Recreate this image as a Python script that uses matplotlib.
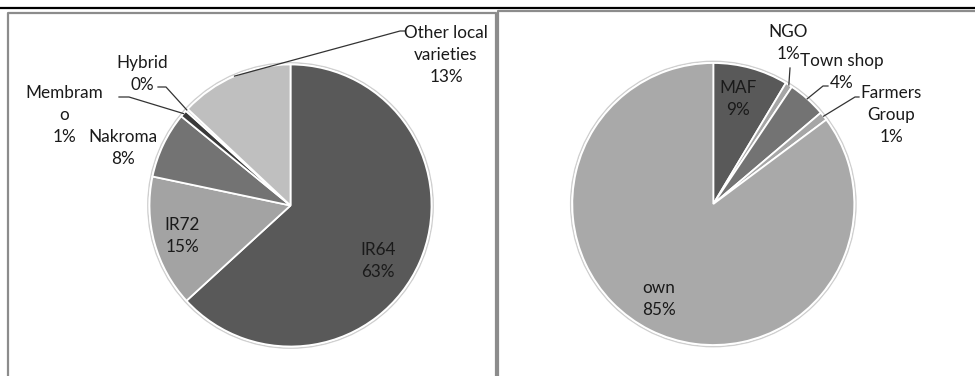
import matplotlib
matplotlib.use("Agg")
import matplotlib.pyplot as plt
import numpy as np

# ---------------- data ----------------
varieties = ["IR64", "IR72", "Nakroma", "Membram\no", "Hybrid", "Other local\nvarieties"]
variety_share = [63.2, 15.1, 7.6, 0.8, 0.3, 13.0]
variety_colors = ["#595959", "#a3a3a3", "#737373", "#3a3a3a", "#d9d9d9", "#bfbfbf"]

sources = ["MAF", "NGO", "Town shop", "Farmers\nGroup", "own"]
source_share = [8.6, 0.8, 4.4, 1.0, 85.2]
source_colors = ["#595959", "#a6a6a6", "#737373", "#a6a6a6", "#a9a9a9"]

# ---------------- layout (pixels) ----------------
W, H = 975, 376
plt.rcParams['font.family'] = ['Lato', 'DejaVu Sans']
FS = 12.3
LS = 1.5

fig = plt.figure(figsize=(W / 100, H / 100), dpi=100)
bg = fig.add_axes([0, 0, 1, 1])
bg.set_xlim(0, W)
bg.set_ylim(H, 0)
bg.axis('off')
bg.plot([0, W], [7.5, 7.5], color='black', lw=1.6, solid_capstyle='butt')
bg.plot([8, 8, 496, 496], [H + 2, 12.5, 12.5, H + 2], color='#8c8c8c', lw=1.6)
bg.plot([497.5, 497.5, W + 2], [H + 2, 10.5, 10.5], color='#8c8c8c', lw=1.6)


def make_pie(cx, cy, r, values, colors):
    half = 190
    ax = fig.add_axes([(cx - half) / W, (H - cy - half) / H, 2 * half / W, 2 * half / H])
    wedges, _ = ax.pie(values, colors=colors, startangle=90, counterclock=False,
                       radius=1.0, center=(0, 0),
                       wedgeprops=dict(edgecolor='white', linewidth=1.3))
    ax.add_patch(plt.Circle((0, 0), 1.012, fill=False, ec='#cfcfcf', lw=1.0, zorder=0))
    ax.set_xlim(-half / r, half / r)
    ax.set_ylim(-half / r, half / r)
    ax.axis('off')
    return ax, wedges


def label_text(name, v):
    return f"{name}\n{int(round(v))}%"


def place(cx, cy, r, px, py):
    return (px - cx) / r, (cy - py) / r


def mid_point(w):
    ang = np.deg2rad((w.theta1 + w.theta2) / 2)
    return np.cos(ang), np.sin(ang)


def draw(ax, cx, cy, r, wedges, names, values, pos, leaders):
    for i, (name, v) in enumerate(zip(names, values)):
        x, y = place(cx, cy, r, *pos[i])
        ax.text(x, y, label_text(name, v), ha='center', va='center', fontsize=FS,
                color='#1a1a1a', linespacing=LS, clip_on=False)
    for i, pts in leaders.items():
        mx, my = mid_point(wedges[i])
        xs = [mx] + [place(cx, cy, r, *p)[0] for p in pts]
        ys = [my] + [place(cx, cy, r, *p)[1] for p in pts]
        ax.plot(xs, ys, color='#333333', lw=0.9, clip_on=False)


# ---------- left pie ----------
lcx, lcy, lr = 290.5, 205.5, 141
axL, wL = make_pie(lcx, lcy, lr, variety_share, variety_colors)
left_pos = {0: (378, 261), 1: (182, 236), 2: (123, 148), 3: (64, 115), 4: (142, 74), 5: (446, 55)}
left_leaders = {5: [(400, 31), (405, 31)], 4: [(166, 87), (158, 87)], 3: [(129, 97), (119, 97)]}
draw(axL, lcx, lcy, lr, wL, varieties, variety_share, left_pos, left_leaders)

# ---------- right pie ----------
rcx, rcy, rr = 713.3, 204, 141
axR, wR = make_pie(rcx, rcy, rr, source_share, source_colors)
right_pos = {0: (738, 99), 1: (788, 43), 2: (842, 72), 3: (891, 115), 4: (659, 299)}
right_leaders = {1: [(790, 68)], 2: [(823, 86), (828, 86)], 3: [(855, 97), (859, 97)]}
draw(axR, rcx, rcy, rr, wR, sources, source_share, right_pos, right_leaders)

fig.savefig("out.png", dpi=100)
